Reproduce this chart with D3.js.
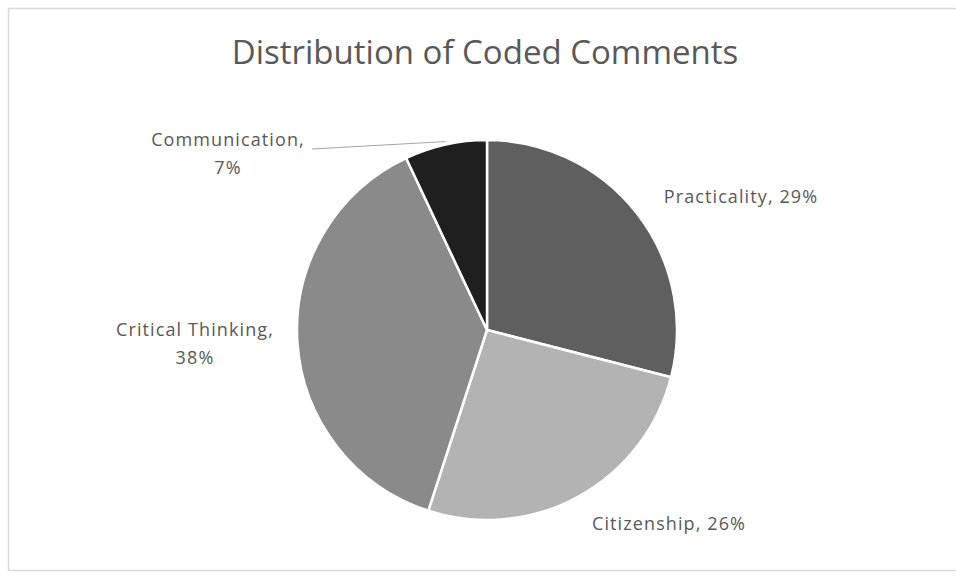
<!DOCTYPE html>
<html>
<head>
<meta charset="utf-8">
<script src="https://cdn.jsdelivr.net/npm/d3@7"></script>
<style>
  html, body { margin: 0; padding: 0; background: #ffffff; }
  svg { display: block; }
  text { font-family: "Open Sans", "Liberation Sans", sans-serif; fill: #595959; }
</style>
</head>
<body>
<svg id="chart" width="956" height="578"></svg>
<script>
// Coded comment categories and their shares (percent)
const categories = ["Practicality", "Citizenship", "Critical Thinking", "Communication"];
const shares = [29, 26, 38, 7];
const sliceColors = ["#5f5f5f", "#b3b3b3", "#8a8a8a", "#1f1f1f"];
const chartTitle = "Distribution of Coded Comments";

const W = 956, H = 578;
const svg = d3.select("#chart");

// chart frame
svg.append("rect")
  .attr("x", 8.5).attr("y", 8.5)
  .attr("width", W + 10).attr("height", 562)
  .attr("fill", "#ffffff")
  .attr("stroke", "#d9d9d9").attr("stroke-width", 1.5);

// title
svg.append("text")
  .attr("x", 485).attr("y", 64)
  .attr("text-anchor", "middle")
  .style("font-size", "33px")
  .text(chartTitle);

const cx = 487, cy = 330, R = 190;
const data = categories.map((c, i) => ({ name: c, value: shares[i], color: sliceColors[i] }));

const pie = d3.pie().value(d => d.value).sort(null);
const arcs = pie(data);
const arc = d3.arc().innerRadius(0).outerRadius(R);

const g = svg.append("g").attr("transform", `translate(${cx},${cy})`);

g.selectAll("path.slice")
  .data(arcs)
  .join("path")
  .attr("class", "slice")
  .attr("d", arc)
  .attr("fill", d => d.data.color)
  .attr("stroke", "#ffffff")
  .attr("stroke-width", 2.5)
  .attr("stroke-linejoin", "round");

// data label anchors (centre of text, first baseline) and line breaks
const labelLayout = {
  "Practicality": { x: 741, y: 203, lines: d => [`${d.data.name}, ${d.data.value}%`] },
  "Citizenship": { x: 669, y: 530, lines: d => [`${d.data.name}, ${d.data.value}%`] },
  "Critical Thinking": { x: 195, y: 336, lines: d => [`${d.data.name},`, `${d.data.value}%`] },
  "Communication": { x: 228, y: 146, lines: d => [`${d.data.name},`, `${d.data.value}%`] }
};

arcs.forEach(d => {
  const L = labelLayout[d.data.name];
  const t = svg.append("text")
    .attr("text-anchor", "middle")
    .style("font-size", "18px")
    .style("letter-spacing", "1.1px");
  L.lines(d).forEach((s, i) => {
    t.append("tspan").attr("x", L.x).attr("y", L.y + i * 28).text(s);
  });
});

// leader line for the small slice
const comm = arcs.find(d => d.data.name === "Communication");
const mid = (comm.startAngle + comm.endAngle) / 2;
const ax = cx + R * Math.sin(mid), ay = cy - R * Math.cos(mid);
svg.append("path")
  .attr("d", `M312,149 L${ax},${ay - 3}`)
  .attr("stroke", "#a6a6a6").attr("stroke-width", 1).attr("fill", "none");
</script>
</body>
</html>
